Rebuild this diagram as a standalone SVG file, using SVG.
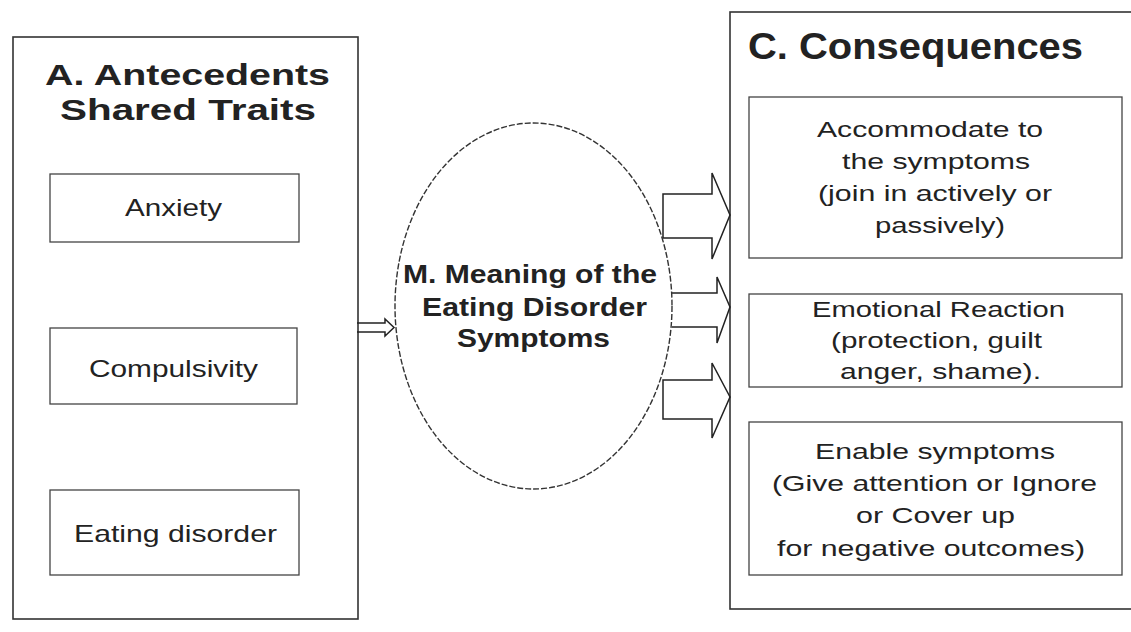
<svg xmlns="http://www.w3.org/2000/svg" width="1131" height="632" viewBox="0 0 1131 632">
<style>
.frame{fill:#fff;stroke:#333;stroke-width:1.6}
.box{fill:#fff;stroke:#444;stroke-width:1.3}
.t{font-family:"Liberation Sans",Arial,sans-serif;fill:#222}
.b{font-weight:bold}
.arr{fill:none;stroke:#222;stroke-width:1.5;stroke-linejoin:miter}
.ell{fill:none;stroke:#333;stroke-width:1.4;stroke-dasharray:6 2}
</style>
<rect width="1131" height="632" fill="#fff"/>
<g id="antecedents">
<rect class="frame" x="13" y="37" width="345" height="582"/>
<text class="t b" x="45" y="85" font-size="30" textLength="285" lengthAdjust="spacingAndGlyphs">A. Antecedents</text>
<text class="t b" x="60" y="120" font-size="30" textLength="256" lengthAdjust="spacingAndGlyphs">Shared Traits</text>
</g>
<g id="anxiety">
<rect class="box" x="50" y="174" width="249" height="68"/>
<text class="t" x="125" y="216" font-size="24" textLength="97" lengthAdjust="spacingAndGlyphs">Anxiety</text>
</g>
<g id="compulsivity">
<rect class="box" x="50" y="328" width="247" height="76"/>
<text class="t" x="89" y="377" font-size="24" textLength="169" lengthAdjust="spacingAndGlyphs">Compulsivity</text>
</g>
<g id="eating-disorder">
<rect class="box" x="50" y="490" width="249" height="85"/>
<text class="t" x="74" y="542" font-size="24" textLength="203" lengthAdjust="spacingAndGlyphs">Eating disorder</text>
</g>
<g id="consequences">
<rect class="frame" x="730" y="12" width="420" height="597"/>
<text class="t b" x="748" y="59" font-size="37" textLength="335" lengthAdjust="spacingAndGlyphs">C. Consequences</text>
</g>
<g id="accommodate">
<rect class="box" x="749" y="97" width="373" height="161"/>
<text class="t" x="817" y="137" font-size="22" textLength="226" lengthAdjust="spacingAndGlyphs">Accommodate to</text>
<text class="t" x="842" y="169" font-size="22" textLength="188" lengthAdjust="spacingAndGlyphs">the symptoms</text>
<text class="t" x="818" y="201" font-size="22" textLength="234" lengthAdjust="spacingAndGlyphs">(join in actively or</text>
<text class="t" x="875" y="233" font-size="22" textLength="130" lengthAdjust="spacingAndGlyphs">passively)</text>
</g>
<g id="emotional">
<rect class="box" x="749" y="294" width="373" height="93"/>
<text class="t" x="812" y="317" font-size="22" textLength="253" lengthAdjust="spacingAndGlyphs">Emotional Reaction</text>
<text class="t" x="831" y="348" font-size="22" textLength="211" lengthAdjust="spacingAndGlyphs">(protection, guilt</text>
<text class="t" x="840" y="379" font-size="22" textLength="201" lengthAdjust="spacingAndGlyphs">anger, shame).</text>
</g>
<g id="enable">
<rect class="box" x="749" y="422" width="373" height="153"/>
<text class="t" x="815" y="459" font-size="22" textLength="240" lengthAdjust="spacingAndGlyphs">Enable symptoms</text>
<text class="t" x="772" y="491" font-size="22" textLength="325" lengthAdjust="spacingAndGlyphs">(Give attention or Ignore</text>
<text class="t" x="856" y="523" font-size="22" textLength="159" lengthAdjust="spacingAndGlyphs">or Cover up</text>
<text class="t" x="777" y="556" font-size="22" textLength="308" lengthAdjust="spacingAndGlyphs">for negative outcomes)</text>
</g>
<g id="connectors">
<path class="arr" d="M357,323 L385,323 L385,319 L394,327.5 L385,336 L385,332 L357,332"/>
<path class="arr" d="M663,238 L663,194 L712,194 L712,173 L730,215 L712,259 L712,238 Z"/>
<path class="arr" d="M672,293 L717,293 L717,277 L730,307 L717,343 L717,327 L672,327"/>
<path class="arr" d="M663,380 L712,380 L712,363 L730,397 L712,438 L712,419 L663,419 Z"/>
</g>
<g id="meaning">
<ellipse class="ell" cx="533.5" cy="306" rx="138.5" ry="183"/>
<text class="t b" x="403" y="283" font-size="26" textLength="254" lengthAdjust="spacingAndGlyphs">M. Meaning of the</text>
<text class="t b" x="422" y="316" font-size="26" textLength="225" lengthAdjust="spacingAndGlyphs">Eating Disorder</text>
<text class="t b" x="457" y="347" font-size="26" textLength="153" lengthAdjust="spacingAndGlyphs">Symptoms</text>
</g>
</svg>
